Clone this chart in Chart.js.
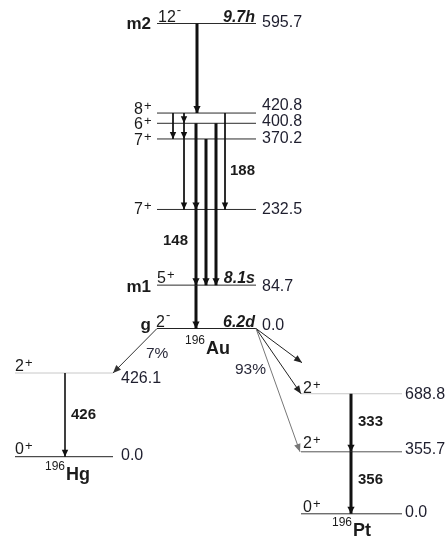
<!DOCTYPE html>
<html>
<head>
<meta charset="utf-8">
<script src="https://cdn.jsdelivr.net/npm/chart.js@4.4.0/dist/chart.umd.min.js"></script>
<style>
  html, body { margin: 0; padding: 0; background: #fff; }
  #wrap { position: relative; width: 445px; height: 538px; }
</style>
</head>
<body>
<div id="wrap"><canvas id="scheme"></canvas></div>
<script>
// ---- level scheme data (keV) ----
const auEnergies = [595.7, 420.8, 400.8, 370.2, 232.5, 84.7, 0.0];
const auSpins = ['12-', '8+', '6+', '7+', '7+', '5+', '2-'];
const auNames = ['m2', '', '', '', '', 'm1', 'g'];
const auHalfLives = ['9.7h', '', '', '', '', '8.1s', '6.2d'];

const hgEnergies = [426.1, 0.0];
const hgSpins = ['2+', '0+'];

const ptEnergies = [688.8, 355.7, 0.0];
const ptSpins = ['2+', '2+', '0+'];

// gamma transitions
const auGammaFrom = [595.7, 420.8, 400.8, 370.2, 420.8, 420.8, 400.8, 232.5, 84.7, 370.2, 400.8];
const auGammaTo   = [420.8, 400.8, 370.2, 232.5, 370.2, 232.5, 232.5, 84.7, 0.0, 84.7, 84.7];
const auGammaLabels = ['', '', '', '', '', '188', '', '148', '', '', ''];

const hgGammaFrom = [426.1];
const hgGammaTo = [0.0];
const hgGammaLabels = ['426'];

const ptGammaFrom = [688.8, 355.7];
const ptGammaTo = [355.7, 0.0];
const ptGammaLabels = ['333', '356'];

// decay of the 196Au ground state
const hgFeedEnergies = [426.1];
const ptFeedEnergies = [867, 688.8, 355.7];   // first arrow stops short of a drawn level
const branchLabels = ['7%', '93%'];

// ---- layout ----
const W = 445, H = 538;
const FONT = '"Liberation Sans", Arial, Helvetica, sans-serif';
const INK = '#1b1b1b';

// pixel of 0 keV and pixels per keV for each nucleus
const auAxis = { zero: 328.5, perKeV: 0.512 };
const hgAxis = { zero: 456.7, perKeV: 0.1964 };
const ptAxis = { zero: 513.8, perKeV: 0.1743 };

const auLevelX = [157, 256];
const hgLevelX = [15, 113];
const ptLevelX = [301, 402];

const auLevelColors = ['#2b2b2b', '#2b2b2b', '#2b2b2b', '#2b2b2b', '#2b2b2b', '#2b2b2b', '#222'];
const hgLevelColors = ['#c8c8c8', '#222'];
const ptLevelColors = ['#c8c8c8', '#555', '#333'];

const auGammaX = [197, 184, 184, 184, 173, 225, 196, 196, 196, 206, 216];
const auGammaWidth = [3, 1, 1, 1, 1, 1, 3, 3, 3, 3, 3];
const hgGammaX = [65];
const hgGammaWidth = [1.6];
const ptGammaX = [351];
const ptGammaWidth = [3, 3];

const auEnergyDy = [-1, -7, -2, 0, 0, 1, -3];
const auSpinX = [158, 134, 134, 134, 134, 157, 156];
const auSpinDy = [-2, 1, 6, 6, 5, -2, -2];
const auNameDy = [5, 0, 0, 0, 0, 7, 1];

function axisRange(a) {
  return { min: -(H - a.zero) / a.perKeV, max: a.zero / a.perKeV };
}

const datasets = [];

function addLevel(e, xr, axisId, color) {
  datasets.push({
    kind: 'level', data: [{ x: xr[0], y: e }, { x: xr[1], y: e }], yAxisID: axisId,
    showLine: true, borderColor: color, borderWidth: 1, pointRadius: 0, clip: false, order: 2
  });
}

function addGamma(from, to, x, axisId, width) {
  datasets.push({
    kind: 'gamma', data: [{ x: x, y: from }, { x: x, y: to }], yAxisID: axisId,
    showLine: true, borderColor: '#111', borderWidth: width, borderCapStyle: 'butt',
    pointRadius: 0, clip: false, order: 1
  });
}

auEnergies.forEach((e, i) => addLevel(e, auLevelX, 'yAu', auLevelColors[i]));
hgEnergies.forEach((e, i) => addLevel(e, hgLevelX, 'yHg', hgLevelColors[i]));
ptEnergies.forEach((e, i) => addLevel(e, ptLevelX, 'yPt', ptLevelColors[i]));

auGammaFrom.forEach((e, i) => addGamma(e, auGammaTo[i], auGammaX[i], 'yAu', auGammaWidth[i]));
hgGammaFrom.forEach((e, i) => addGamma(e, hgGammaTo[i], hgGammaX[0], 'yHg', hgGammaWidth[i]));
ptGammaFrom.forEach((e, i) => addGamma(e, ptGammaTo[i], ptGammaX[0], 'yPt', ptGammaWidth[i]));

function arrowHead(ctx, x0, y0, x1, y1, len, half, color) {
  const a = Math.atan2(y1 - y0, x1 - x0);
  ctx.save();
  ctx.translate(x1, y1);
  ctx.rotate(a);
  ctx.beginPath();
  ctx.moveTo(0, 0);
  ctx.lineTo(-len, -half);
  ctx.lineTo(-len, half);
  ctx.closePath();
  ctx.fillStyle = color;
  ctx.fill();
  ctx.restore();
}

function text(ctx, s, x, y, size, opts) {
  opts = opts || {};
  ctx.font = (opts.style || '') + ' ' + (opts.weight || 'normal') + ' ' + size + 'px ' + FONT;
  ctx.fillStyle = opts.color || INK;
  ctx.textAlign = opts.align || 'left';
  ctx.textBaseline = opts.baseline || 'alphabetic';
  ctx.fillText(s, x, y);
  return ctx.measureText(s).width;
}

// spin/parity: value plus raised sign
function spin(ctx, s, x, base) {
  const w = text(ctx, s.slice(0, -1), x, base, 16);
  const sign = s.slice(-1);
  if (sign === '+') text(ctx, '+', x + w + 1, base - 4, 13);
  else text(ctx, '-', x + w + 1, base - 8, 13);
}

function nuclide(ctx, mass, sym, x, base) {
  const w = text(ctx, mass, x, base - 10, 12);
  text(ctx, sym, x + w + 1, base, 18, { weight: 'bold' });
}

const schemePlugin = {
  id: 'scheme',
  afterDatasetsDraw(chart) {
    const ctx = chart.ctx;
    const xs = chart.scales.x;
    const yAu = chart.scales.yAu, yHg = chart.scales.yHg, yPt = chart.scales.yPt;

    // arrowheads on gamma lines
    chart.data.datasets.forEach((ds, i) => {
      if (ds.kind !== 'gamma') return;
      const pts = chart.getDatasetMeta(i).data;
      const thick = ds.borderWidth >= 2.5;
      arrowHead(ctx, pts[0].x, pts[0].y, pts[1].x, pts[1].y, 7, thick ? 3.6 : 3.2, '#111');
    });

    // decay branches out of the Au ground state
    const gy = yAu.getPixelForValue(0);
    const gl = xs.getPixelForValue(auLevelX[0]);
    const gr = xs.getPixelForValue(auLevelX[1]);
    const branch = (x0, y0, x1, y1, color) => {
      ctx.save();
      ctx.strokeStyle = color;
      ctx.lineWidth = 1;
      ctx.beginPath();
      ctx.moveTo(x0, y0);
      ctx.lineTo(x1, y1);
      ctx.stroke();
      ctx.restore();
      arrowHead(ctx, x0, y0, x1, y1, 8, 3.3, color);
    };
    hgFeedEnergies.forEach(e => branch(gl, gy, xs.getPixelForValue(hgLevelX[1]), yHg.getPixelForValue(e), '#333'));
    const ptFeedX = [302, 301, 300];
    const ptFeedColor = ['#222', '#222', '#777'];
    ptFeedEnergies.forEach((e, i) => branch(gr, gy, xs.getPixelForValue(ptFeedX[i]), yPt.getPixelForValue(e), ptFeedColor[i]));

    // Au labels
    auEnergies.forEach((e, i) => {
      const y = yAu.getPixelForValue(e);
      text(ctx, e.toFixed(1), 262, y + auEnergyDy[i], 16, { baseline: 'middle', color: '#1e1e2e' });
      spin(ctx, auSpins[i], auSpinX[i], y + auSpinDy[i]);
      if (auNames[i]) text(ctx, auNames[i], 151, y + auNameDy[i], 17, { weight: 'bold', align: 'right' });
      if (auHalfLives[i]) text(ctx, auHalfLives[i], 255, y - 2, 16, { weight: 'bold', style: 'italic', align: 'right' });
    });
    auGammaFrom.forEach((e, i) => {
      if (!auGammaLabels[i]) return;
      const mid = (yAu.getPixelForValue(e) + yAu.getPixelForValue(auGammaTo[i])) / 2;
      const lx = auGammaLabels[i] === '188' ? 230 : 163;
      const dy = auGammaLabels[i] === '188' ? 10 : -6;
      text(ctx, auGammaLabels[i], lx, mid + dy, 15, { weight: 'bold', baseline: 'middle' });
    });
    nuclide(ctx, '196', 'Au', 185, gy + 25);

    // Hg labels
    const hgDy = [6, -1];
    const hgSpinDy = [-2, -3];
    hgEnergies.forEach((e, i) => {
      const y = yHg.getPixelForValue(e);
      text(ctx, e.toFixed(1), 121, y + hgDy[i], 16, { baseline: 'middle', color: '#1e1e2e' });
      spin(ctx, hgSpins[i], 15, y + hgSpinDy[i]);
    });
    const hgMid = (yHg.getPixelForValue(hgGammaFrom[0]) + yHg.getPixelForValue(hgGammaTo[0])) / 2;
    text(ctx, hgGammaLabels[0], 71, hgMid, 15, { weight: 'bold', baseline: 'middle' });
    nuclide(ctx, '196', 'Hg', 45, yHg.getPixelForValue(0) + 23);
    text(ctx, branchLabels[0], 146, 354, 15.5, { baseline: 'middle', color: '#2a2a3a' });

    // Pt labels
    const ptDy = [1, -2, -1];
    const ptSpinDy = [-1, -4, -2];
    ptEnergies.forEach((e, i) => {
      const y = yPt.getPixelForValue(e);
      text(ctx, e.toFixed(1), 405, y + ptDy[i], 16, { baseline: 'middle', color: '#1e1e2e' });
      spin(ctx, ptSpins[i], 303, y + ptSpinDy[i]);
    });
    ptGammaFrom.forEach((e, i) => {
      const mid = (yPt.getPixelForValue(e) + yPt.getPixelForValue(ptGammaTo[i])) / 2;
      text(ctx, ptGammaLabels[i], 358, mid + (i === 0 ? -1 : -3), 15, { weight: 'bold', baseline: 'middle' });
    });
    nuclide(ctx, '196', 'Pt', 332, yPt.getPixelForValue(0) + 22);
    text(ctx, branchLabels[1], 235, 370, 15.5, { baseline: 'middle', color: '#2a2a3a' });
  }
};

const auRange = axisRange(auAxis), hgRange = axisRange(hgAxis), ptRange = axisRange(ptAxis);

new Chart(document.getElementById('scheme'), {
  type: 'scatter',
  data: { datasets: datasets },
  options: {
    responsive: true,
    maintainAspectRatio: false,
    animation: false,
    events: [],
    layout: { padding: 0, autoPadding: false },
    plugins: { legend: { display: false }, tooltip: { enabled: false } },
    scales: {
      x: { type: 'linear', min: 0, max: W, display: false },
      yAu: { type: 'linear', position: 'left', min: auRange.min, max: auRange.max, display: false },
      yHg: { type: 'linear', position: 'left', min: hgRange.min, max: hgRange.max, display: false },
      yPt: { type: 'linear', position: 'right', min: ptRange.min, max: ptRange.max, display: false }
    }
  },
  plugins: [schemePlugin]
});
</script>
</body>
</html>
